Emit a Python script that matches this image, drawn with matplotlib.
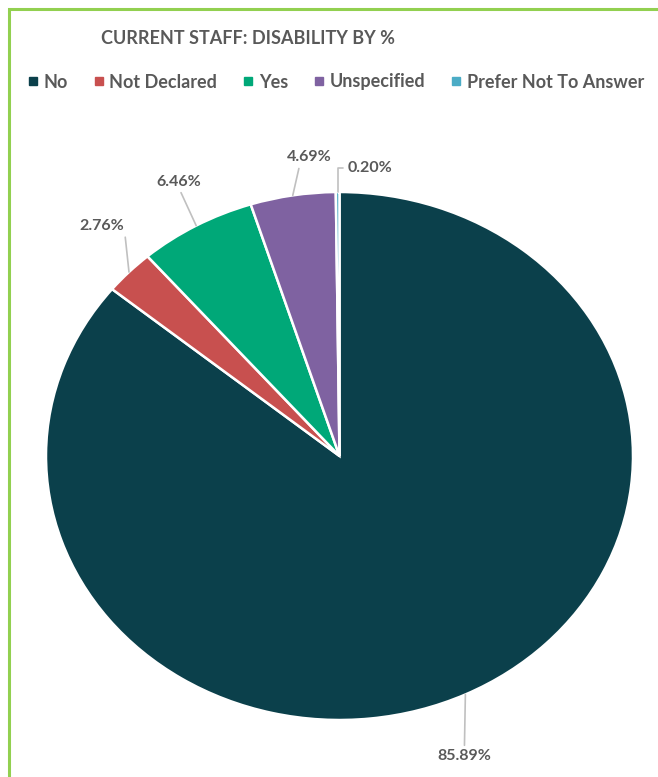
import matplotlib
matplotlib.use("Agg")
import matplotlib.pyplot as plt
import numpy as np
from matplotlib.patches import Rectangle
from matplotlib.lines import Line2D

categories = ["No", "Not Declared", "Yes", "Unspecified", "Prefer Not To Answer"]
values = [85.89, 2.76, 6.46, 4.69, 0.20]
labels = ["85.89%", "2.76%", "6.46%", "4.69%", "0.20%"]
colors = ["#0b404b", "#c8504f", "#00a878", "#7f62a1", "#4bacc6"]

# label offsets in pixels relative to wedge edge (style)
offsets = [(-1, -62), (-27, 46), (-17, 44), (16, 38), (32, 24)]
relpos = [(0.5, 1.0), (1.0, 0.3), (0.5, 0.0), (0.3, 0.0), (0.0, 0.5)]

plt.rcParams['font.family'] = ['Lato', 'DejaVu Sans']
fig = plt.figure(figsize=(6.58, 7.77), dpi=100)

# green frame
fig.patches.append(Rectangle((8.5 / 658, -0.1), 1.2, 1 - 8.5 / 777 + 0.1,
                             transform=fig.transFigure, fill=False,
                             edgecolor="#92d050", lw=2.2, zorder=0))

ax = fig.add_axes([46 / 658, 1 - 720 / 777, 587 / 658, 528 / 777])
wedges, _ = ax.pie(values, colors=colors, startangle=90, counterclock=False,
                   wedgeprops=dict(edgecolor="white", linewidth=1.8))
ax.set_aspect('auto')
ax.set_xlim(-1, 1)
ax.set_ylim(-1, 1)
ax.axis('off')

for w, lab, off, rp in zip(wedges, labels, offsets, relpos):
    mid = np.deg2rad((w.theta1 + w.theta2) / 2)
    x, y = np.cos(mid), np.sin(mid)
    cs = "angle,angleA=0,angleB=90,rad=0" if lab == "0.20%" else "arc3"
    ax.annotate(lab, xy=(x, y), xytext=off, textcoords='offset pixels',
                ha='center', va='center', fontsize=11.5, fontweight='bold',
                color="#595959",
                arrowprops=dict(arrowstyle='-', color="#c0c0c0", lw=1.2,
                                shrinkA=1, shrinkB=0, relpos=rp,
                                connectionstyle=cs))

fig.text(248 / 658, 1 - 38 / 777, "CURRENT STAFF: DISABILITY BY %",
         ha='center', va='center', fontsize=13, fontweight='bold', color="#595959")

handles = [Line2D([], [], marker='s', linestyle='none', markersize=6,
                  markerfacecolor=c, markeredgecolor=c) for c in colors]
fig.legend(handles, categories, loc='center left', ncol=5,
           bbox_to_anchor=(20 / 658, 1 - 82 / 777), frameon=False,
           prop=dict(size=13, weight='bold'), labelcolor="#595959",
           handlelength=0.6, handletextpad=0.3, columnspacing=1.4,
           borderaxespad=0)

fig.savefig("out.png", dpi=100, facecolor="white")
